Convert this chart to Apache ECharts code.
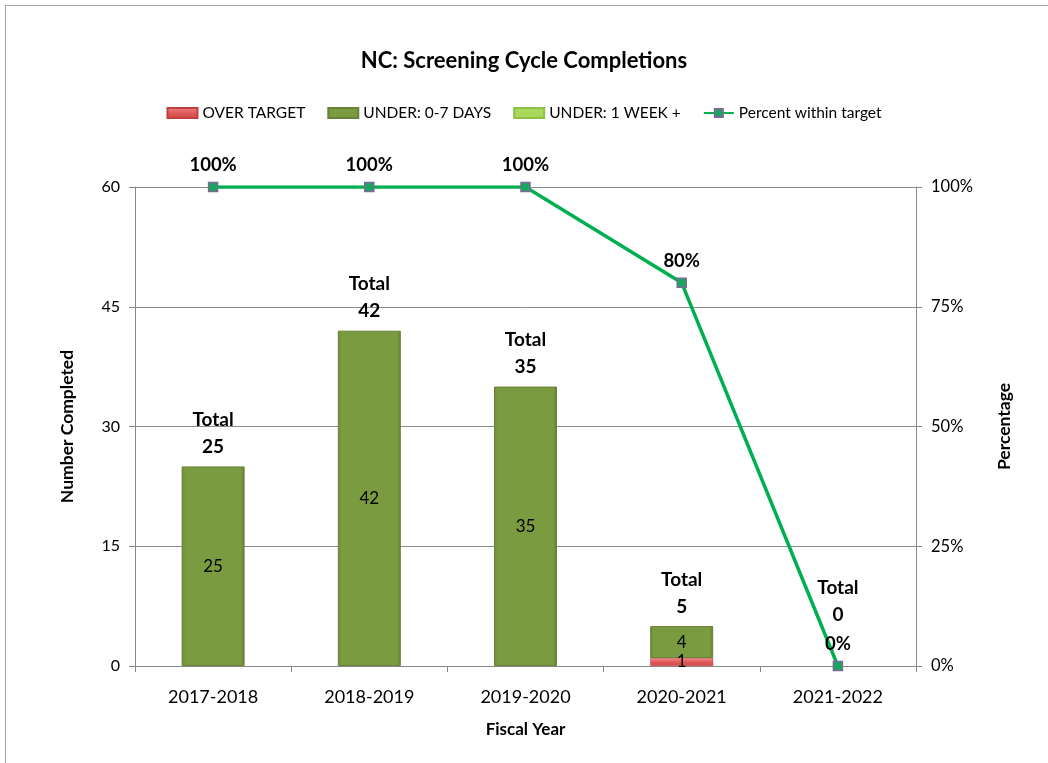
<!DOCTYPE html>
<html>
<head>
<meta charset="utf-8">
<script src="https://cdn.jsdelivr.net/npm/echarts@6/dist/echarts.min.js"></script>
<style>
html,body{margin:0;padding:0;background:#fff;}
#frame{position:absolute;left:5px;top:5px;width:1043px;height:758px;border-left:1.5px solid #a6a6a6;border-top:1.5px solid #a6a6a6;}
#chart{position:absolute;left:0;top:0;width:1048px;height:763px;}
</style>
</head>
<body>
<div id="frame"></div>
<div id="chart"></div>
<script>
var categories = ['2017-2018', '2018-2019', '2019-2020', '2020-2021', '2021-2022'];
var overTarget = [0, 0, 0, 1, 0];
var under07 = [25, 42, 35, 4, 0];
var under1w = [0, 0, 0, 0, 0];
var totals = [25, 42, 35, 5, 0];
var pctWithin = [100, 100, 100, 80, 0];
var leftTicks = [0, 15, 30, 45, 60];
var rightTicks = [0, 25, 50, 75, 100];

var FONT = 'Lato, "Open Sans", sans-serif';
var chart = echarts.init(document.getElementById('chart'));

function innerLabel(p) { return p.value > 0 ? String(p.value) : ''; }
function hideZero(arr) { return arr.map(function (v) { return v === 0 ? '-' : v; }); }

var option = {
  backgroundColor: 'transparent',
  textStyle: { fontFamily: FONT },
  title: {
    text: 'NC: Screening Cycle Completions',
    left: 'center', top: 45,
    textStyle: { fontFamily: FONT, fontSize: 22, fontWeight: 'bold', color: '#000' }
  },
  legend: {
    top: 100, left: 'center',
    itemWidth: 30, itemHeight: 10, itemGap: 22,
    textStyle: { fontFamily: FONT, fontSize: 15.5, color: '#000' },
    data: [
      { name: 'OVER TARGET', icon: 'rect' },
      { name: 'UNDER: 0-7 DAYS', icon: 'rect' },
      { name: 'UNDER: 1 WEEK +', icon: 'rect' },
      { name: 'Percent within target' }
    ]
  },
  grid: { left: 135, right: 132, top: 187, bottom: 97 },
  xAxis: {
    type: 'category', data: categories,
    name: 'Fiscal Year', nameLocation: 'middle', nameGap: 55,
    nameTextStyle: { fontFamily: FONT, fontSize: 17, fontWeight: 'bold', color: '#000' },
    axisLine: { lineStyle: { color: '#888', width: 1 } },
    axisTick: { show: true, length: 6, lineStyle: { color: '#888' } },
    axisLabel: { fontFamily: FONT, fontSize: 18, color: '#000', margin: 22 }
  },
  yAxis: [
    {
      type: 'value', min: leftTicks[0], max: leftTicks[leftTicks.length - 1], interval: 15,
      name: 'Number Completed', nameLocation: 'middle', nameGap: 59, nameRotate: 90,
      nameTextStyle: { fontFamily: FONT, fontSize: 17.5, fontWeight: 'bold', color: '#000' },
      axisLine: { show: true, lineStyle: { color: '#888' } },
      axisTick: { show: true, length: 6, lineStyle: { color: '#888' } },
      axisLabel: { fontFamily: FONT, fontSize: 16, color: '#000', margin: 15 },
      splitLine: { show: true, lineStyle: { color: '#8c8c8c', width: 1 } }
    },
    {
      type: 'value', min: rightTicks[0], max: rightTicks[rightTicks.length - 1], interval: 25,
      name: 'Percentage', nameLocation: 'middle', nameGap: 79, nameRotate: 90,
      nameTextStyle: { fontFamily: FONT, fontSize: 17.5, fontWeight: 'bold', color: '#000' },
      axisLine: { show: true, lineStyle: { color: '#888' } },
      axisTick: { show: true, length: 6, lineStyle: { color: '#888' } },
      axisLabel: { fontFamily: FONT, fontSize: 16.5, color: '#000', margin: 15, formatter: '{value}%' },
      splitLine: { show: false }
    }
  ],
  series: [
    {
      name: 'OVER TARGET', type: 'bar', stack: 'cnt', barWidth: 63,
      data: hideZero(overTarget),
      itemStyle: {
        color: new echarts.graphic.LinearGradient(0, 0, 0, 1, [
          { offset: 0, color: '#f08a8a' }, { offset: 0.5, color: '#e05a5a' }, { offset: 1, color: '#d04848' }
        ]),
        borderColor: '#c04040', borderWidth: 0.5
      },
      label: { show: true, position: 'inside', formatter: innerLabel, fontFamily: FONT, fontSize: 17, color: '#000' }
    },
    {
      name: 'UNDER: 0-7 DAYS', type: 'bar', stack: 'cnt', barWidth: 63,
      data: hideZero(under07),
      itemStyle: {
        color: new echarts.graphic.LinearGradient(0, 0, 1, 0, [
          { offset: 0, color: '#6e8a36' }, { offset: 0.06, color: '#7b9b40' }, { offset: 0.94, color: '#7b9b40' }, { offset: 1, color: '#647d31' }
        ]),
        borderColor: '#68823a', borderWidth: 1
      },
      label: { show: true, position: 'inside', formatter: innerLabel, fontFamily: FONT, fontSize: 17, color: '#000' }
    },
    {
      name: 'UNDER: 1 WEEK +', type: 'bar', stack: 'cnt', barWidth: 63,
      data: hideZero(under1w),
      itemStyle: { color: '#a9d85a', borderColor: '#8fc048', borderWidth: 1 },
      label: { show: true, position: 'inside', formatter: innerLabel, fontFamily: FONT, fontSize: 17, color: '#000' }
    },
    {
      name: 'Total', type: 'bar', barWidth: 63, barGap: '-100%', z: 1, silent: true,
      data: totals.map(function (v) {
        return v === 0 ? { value: v, label: { distance: 38 } } : v;
      }),
      itemStyle: { color: 'rgba(0,0,0,0)' },
      label: {
        show: true, position: 'top', distance: 6,
        formatter: function (p) { return 'Total\n' + p.value; },
        fontFamily: FONT, fontSize: 19, fontWeight: 'bold', color: '#000', lineHeight: 27
      }
    },
    {
      name: 'Percent within target', type: 'line', yAxisIndex: 1,
      data: pctWithin, z: 5,
      symbol: 'rect', symbolSize: 9,
      lineStyle: { color: '#00b050', width: 3.5 },
      itemStyle: { color: '#16a85a', borderColor: '#7a6a9a', borderWidth: 1.5 },
      label: {
        show: true, position: 'top', distance: 7, formatter: '{c}%',
        fontFamily: FONT, fontSize: 18.5, fontWeight: 'bold', color: '#000'
      }
    }
  ]
};
chart.setOption(option);
</script>
</body>
</html>
